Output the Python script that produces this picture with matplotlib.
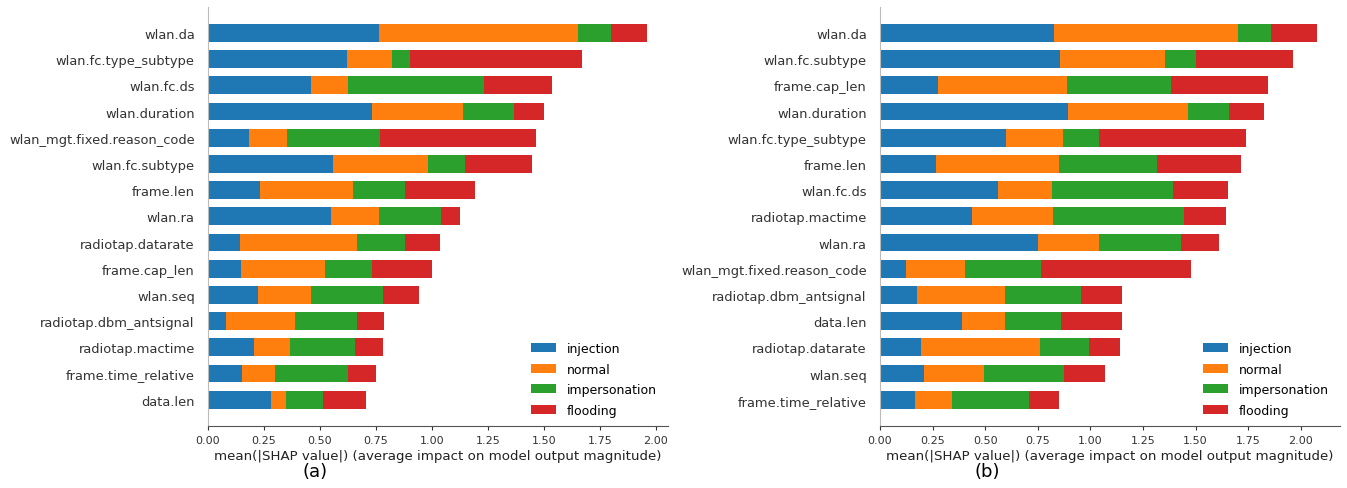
"""
Stacked mean(|SHAP|) bar charts per class for two feature sets, (a) and (b).
"""

import matplotlib

matplotlib.use("Agg")
import matplotlib.pyplot as plt
import numpy as np

CLASSES = ["injection", "normal", "impersonation", "flooding"]
COLORS = ["#1f77b4", "#ff7f0e", "#2ca02c", "#d62728"]

# panel (a), features listed top to bottom
FEATURES_A = [
    "wlan.da", "wlan.fc.type_subtype", "wlan.fc.ds", "wlan.duration",
    "wlan_mgt.fixed.reason_code", "wlan.fc.subtype", "frame.len", "wlan.ra",
    "radiotap.datarate", "frame.cap_len", "wlan.seq", "radiotap.dbm_antsignal",
    "radiotap.mactime", "frame.time_relative", "data.len",
]
INJECTION_A = [0.762, 0.622, 0.461, 0.734, 0.185, 0.559, 0.231, 0.549, 0.143, 0.148, 0.222, 0.079, 0.207, 0.152, 0.282]
NORMAL_A = [0.889, 0.200, 0.165, 0.405, 0.170, 0.424, 0.415, 0.216, 0.521, 0.377, 0.239, 0.309, 0.161, 0.148, 0.068]
IMPERSONATION_A = [0.148, 0.082, 0.609, 0.226, 0.415, 0.165, 0.235, 0.276, 0.217, 0.207, 0.322, 0.276, 0.291, 0.326, 0.163]
FLOODING_A = [0.161, 0.765, 0.300, 0.137, 0.695, 0.300, 0.314, 0.084, 0.156, 0.269, 0.158, 0.121, 0.121, 0.126, 0.192]

# panel (b), features listed top to bottom
FEATURES_B = [
    "wlan.da", "wlan.fc.subtype", "frame.cap_len", "wlan.duration",
    "wlan.fc.type_subtype", "frame.len", "wlan.fc.ds", "radiotap.mactime",
    "wlan.ra", "wlan_mgt.fixed.reason_code", "radiotap.dbm_antsignal", "data.len",
    "radiotap.datarate", "wlan.seq", "frame.time_relative",
]
INJECTION_B = [0.825, 0.854, 0.277, 0.895, 0.600, 0.268, 0.561, 0.439, 0.752, 0.125, 0.174, 0.388, 0.193, 0.207, 0.166]
NORMAL_B = [0.876, 0.500, 0.613, 0.567, 0.270, 0.581, 0.258, 0.385, 0.289, 0.279, 0.420, 0.206, 0.569, 0.285, 0.176]
IMPERSONATION_B = [0.157, 0.146, 0.493, 0.195, 0.171, 0.466, 0.575, 0.622, 0.389, 0.361, 0.363, 0.264, 0.233, 0.384, 0.364]
FLOODING_B = [0.220, 0.461, 0.459, 0.166, 0.700, 0.401, 0.258, 0.197, 0.183, 0.715, 0.191, 0.290, 0.144, 0.195, 0.146]

XTICKS = [0.0, 0.25, 0.5, 0.75, 1.0, 1.25, 1.5, 1.75, 2.0]
XLABEL = "mean(|SHAP value|) (average impact on model output magnitude)"


def shap_bar(ax, features, series, xmax, tag):
    n = len(features)
    y = np.arange(n)[::-1]
    left = np.zeros(n)
    for name, vals, color in zip(CLASSES, series, COLORS):
        vals = np.asarray(vals)
        ax.barh(y, vals, left=left, height=0.68, color=color, label=name, linewidth=0)
        left += vals

    ax.set_yticks(y)
    ax.set_yticklabels(features, fontsize=9.35, color="#333333")
    ax.set_ylim(-1, n)
    ax.set_xlim(0, xmax)
    ax.set_xticks(XTICKS)
    ax.set_xticklabels([f"{t:.2f}" for t in XTICKS])
    ax.tick_params(axis="y", length=0, pad=9.5)
    ax.tick_params(axis="x", labelsize=8, color="#333333", labelcolor="#333333", length=3)
    ax.set_xlabel(XLABEL, fontsize=9.6, color="#222222", labelpad=3)
    for side in ("top", "right"):
        ax.spines[side].set_visible(False)
    ax.spines["left"].set_color("#bbbbbb")
    ax.spines["bottom"].set_color("#555555")
    ax.legend(loc="lower right", frameon=False, fontsize=9, bbox_to_anchor=(0.975, 0.022),
              borderaxespad=0, borderpad=0, handlelength=2.0, handleheight=0.7,
              handletextpad=0.8, labelspacing=0.6)
    ax.text(0.233, -0.107, tag, transform=ax.transAxes, ha="center", va="center", fontsize=13)


def main() -> None:
    fig = plt.figure(figsize=(13.47, 4.89), dpi=100)
    ax_a = fig.add_axes([0.1544, 0.127, 0.3415, 0.857])
    ax_b = fig.add_axes([0.6533, 0.127, 0.3415, 0.857])
    shap_bar(ax_a, FEATURES_A, [INJECTION_A, NORMAL_A, IMPERSONATION_A, FLOODING_A], 2.055, "(a)")
    shap_bar(ax_b, FEATURES_B, [INJECTION_B, NORMAL_B, IMPERSONATION_B, FLOODING_B], 2.186, "(b)")
    fig.savefig("out.png", dpi=100)


if __name__ == "__main__":
    main()
